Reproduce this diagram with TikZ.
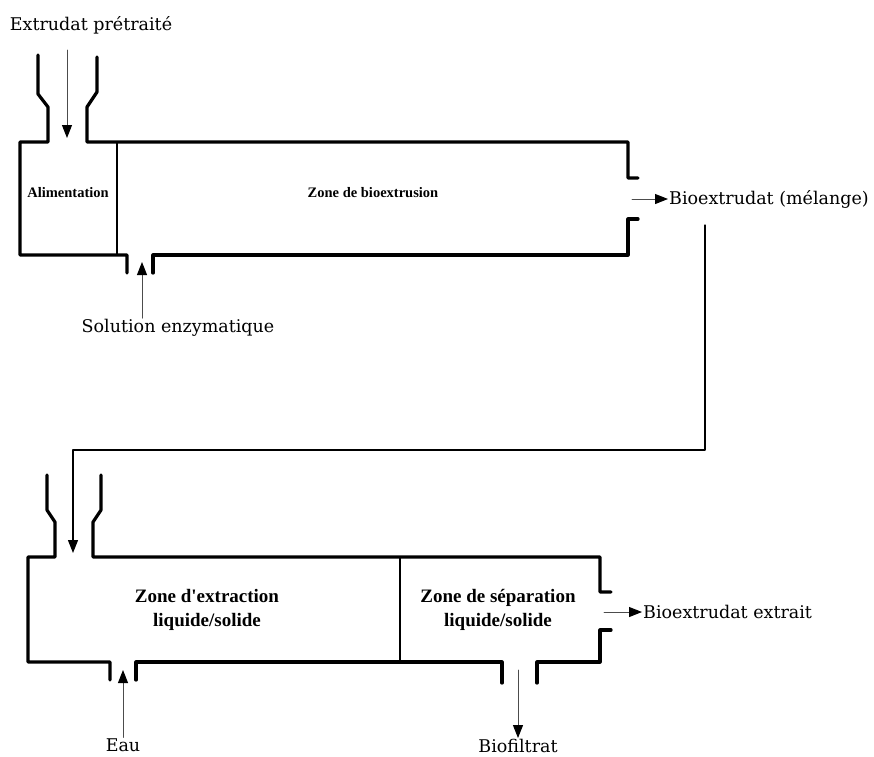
\documentclass[tikz,border=0pt]{standalone}
\usepackage{fontspec}
\setmainfont{DejaVu Serif}
\newfontfamily\zonefont{Liberation Serif}
\usetikzlibrary{arrows.meta}

\begin{document}
\begin{tikzpicture}[line cap=round,line join=round,>={Triangle[length=13pt,width=10pt,color=black]},x=1pt,y=-1pt,
  wall/.style={line width=3.2pt},
  divider/.style={line width=2pt},
  flow/.style={line width=1pt,draw=black!70,->},
  link/.style={line width=1.2pt,->},
  lbl/.style={font=\fontsize{17.5}{20}\selectfont,inner sep=1pt},
  zone/.style={font=\zonefont\bfseries\fontsize{19}{24}\selectfont,align=center},
  smallzone/.style={font=\zonefont\bfseries\fontsize{14.5}{16}\selectfont}]
\useasboundingbox (0,0) rectangle (874,756);
% bioextrudeur
\draw[wall] (38,55) -- (38,94) -- (48,107) -- (48,142) -- (20,142) -- (20,255) -- (127,255) -- (127,273);
\draw[wall] (97,57) -- (97,92) -- (87,107) -- (87,142) -- (628,142) -- (628,178) -- (638,178);
\draw[wall] (638,219) -- (628,219) -- (628,255) -- (153,255) -- (153,273);
\draw[divider] (117,142) -- (117,255);
\node[smallzone] (alim) at (68,193) {Alimentation};
\node[smallzone] (bioextr) at (373,193) {Zone de bioextrusion};
\node[lbl] (extrudat) at (91,25) {Extrudat prétraité};
\node[lbl] (enzyme) at (178,328) {Solution enzymatique};
\node[lbl,anchor=west] (melange) at (668,199) {Bioextrudat (mélange)};
\coordinate (feedA) at (67,50);
\coordinate (feedAend) at (67,138);
\coordinate (inletA) at (142,262);
\coordinate (outA) at (632,199);
\draw[flow] (feedA) -- (feedAend);
\draw[flow] (enzyme.north -| inletA) -- (inletA);
\draw[flow] (outA) -- (melange.west);
% transfert
\coordinate (transfer) at (705,225);
\coordinate (feedB) at (73,553);
\draw[link] (transfer) |- (73,450) -- (feedB);
% extraction / separation
\draw[wall] (47,475) -- (47,510) -- (55,522) -- (55,557) -- (28,557) -- (28,662) -- (110,662) -- (110,680);
\draw[wall] (101,475) -- (101,510) -- (93,522) -- (93,557) -- (600,557) -- (600,592) -- (611,592);
\draw[wall] (611,630) -- (600,630) -- (600,662) -- (537,662) -- (537,683);
\draw[wall] (502,683) -- (502,662) -- (136,662) -- (136,680);
\draw[divider] (400,557) -- (400,662);
\node[zone] (extraction) at (207,610) {Zone d'extraction\\liquide/solide};
\node[zone] (separation) at (498,610) {Zone de séparation\\liquide/solide};
\node[lbl] (eau) at (123,745) {Eau};
\node[lbl] (biofiltrat) at (518,746) {Biofiltrat};
\node[lbl,anchor=west] (extrait) at (642,612) {Bioextrudat extrait};
\coordinate (inletB) at (123,670);
\coordinate (drainB) at (518,670);
\coordinate (outB) at (604,612);
\draw[flow] (eau.north) -- (inletB);
\draw[flow] (drainB) -- (biofiltrat.north);
\draw[flow] (outB) -- (extrait.west);
\end{tikzpicture}
\end{document}
